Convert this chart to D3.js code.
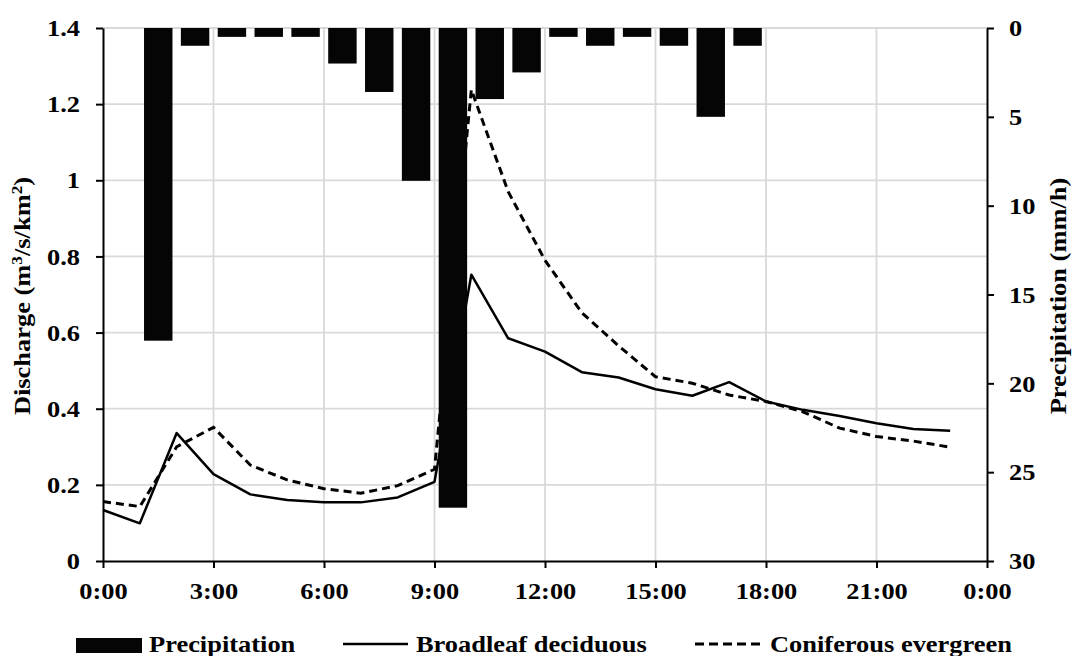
<!DOCTYPE html>
<html>
<head>
<meta charset="utf-8">
<script src="https://d3js.org/d3.v7.min.js"></script>
<style>
  body { margin: 0; background: #fff; }
  svg text { font-family: "Liberation Serif", "Times New Roman", serif; font-weight: bold; fill: #000; }
  .axis-left .tick text { transform-box: fill-box; transform-origin: right center; transform: scaleX(1.1); }
  .axis-right .tick text { transform-box: fill-box; transform-origin: left center; transform: scaleX(1.1); }
  .axis-bottom .tick text { transform-box: fill-box; transform-origin: center; transform: scaleX(1.1); }
  .title text { transform-box: fill-box; transform-origin: center; transform: scaleX(1.15); }
  .legend text { transform-box: fill-box; transform-origin: left center; transform: scaleX(1.15); }
</style>
</head>
<body>
<svg width="1081" height="656"></svg>
<script>
// hourly data, 0:00 .. 23:00
const hours = d3.range(24);
const precipitation = [0, 17.6, 1.0, 0.5, 0.5, 0.5, 2.0, 3.6, 8.6, 27.0, 4.0, 2.5,
                       0.5, 1.0, 0.5, 1.0, 5.0, 1.0, 0, 0, 0, 0, 0, 0];
const broadleaf = [0.134, 0.099, 0.336, 0.228, 0.175, 0.160, 0.154, 0.154, 0.167, 0.208, 0.752, 0.585,
                   0.550, 0.496, 0.482, 0.451, 0.434, 0.470, 0.419, 0.397, 0.381, 0.362, 0.347, 0.342];
const coniferous = [0.156, 0.143, 0.300, 0.351, 0.252, 0.213, 0.190, 0.178, 0.198, 0.241, 1.238, 0.970,
                    0.790, 0.652, 0.565, 0.484, 0.467, 0.436, 0.419, 0.392, 0.349, 0.327, 0.315, 0.299];
const dischargeTicks = [0, 0.2, 0.4, 0.6, 0.8, 1.0, 1.2, 1.4];
const precipTicks = [0, 5, 10, 15, 20, 25, 30];
const timeTicks = [0, 3, 6, 9, 12, 15, 18, 21, 24];

const svg = d3.select('svg');
const plotLeft = 103, plotRight = 987, plotTop = 28, plotBottom = 561;

const x = d3.scaleLinear().domain([0, 24]).range([plotLeft, plotRight]);
const xBand = d3.scaleBand().domain(hours).range([plotLeft, plotRight])
    .paddingInner(0.228).paddingOuter(0.114);
const y = d3.scaleLinear().domain([0, 1.4]).range([plotBottom, plotTop]);
const yPrecip = d3.scaleLinear().domain([0, 30]).range([plotTop, plotBottom]);

// grid
const $grid = svg.append('g').attr('stroke', '#d9d9d9').attr('stroke-width', 1.8);
$grid.selectAll('line.h').data(dischargeTicks.slice(1)).join('line')
    .attr('class', 'h')
    .attr('x1', plotLeft).attr('x2', plotRight)
    .attr('y1', d => y(d)).attr('y2', d => y(d));
$grid.selectAll('line.v').data(timeTicks.slice(1, -1)).join('line')
    .attr('class', 'v')
    .attr('y1', plotTop).attr('y2', plotBottom)
    .attr('x1', d => x(d)).attr('x2', d => x(d));

// discharge lines
const line = d3.line().x((d, i) => x(hours[i])).y(d => y(d));
svg.append('path').datum(broadleaf)
    .attr('d', line).attr('fill', 'none')
    .attr('stroke', '#000').attr('stroke-width', 2.5).attr('stroke-linejoin', 'round');
svg.append('path').datum(coniferous)
    .attr('d', line).attr('fill', 'none')
    .attr('stroke', '#000').attr('stroke-width', 3).attr('stroke-dasharray', '8,5');

// precipitation bars hanging from the top
svg.append('g').selectAll('rect')
    .data(hours.filter(h => precipitation[h] > 0)).join('rect')
    .attr('x', h => xBand(h)).attr('width', xBand.bandwidth())
    .attr('y', yPrecip(0)).attr('height', h => yPrecip(precipitation[h]) - yPrecip(0))
    .attr('fill', '#050505');

// axes
const fmtNum = d => String(+d.toFixed(1));
const fmtTime = d => (d % 24) + ':00';

function styleAxis($g) {
    $g.attr('font-size', null).attr('font-family', null);
    $g.select('.domain').attr('stroke-width', 2);
    $g.selectAll('.tick line').attr('stroke-width', 2);
    $g.selectAll('.tick text').attr('font-size', 24);
}

svg.append('g').attr('class', 'axis-left')
    .attr('transform', `translate(${plotLeft},0)`)
    .call(d3.axisLeft(y).tickValues(dischargeTicks).tickFormat(fmtNum)
        .tickSize(7).tickSizeOuter(0).tickPadding(16))
    .call(styleAxis);

svg.append('g').attr('class', 'axis-right')
    .attr('transform', `translate(${plotRight},0)`)
    .call(d3.axisRight(yPrecip).tickValues(precipTicks).tickFormat(d => d)
        .tickSize(7).tickSizeOuter(0).tickPadding(15))
    .call(styleAxis);

svg.append('g').attr('class', 'axis-bottom')
    .attr('transform', `translate(0,${plotBottom})`)
    .call(d3.axisBottom(x).tickValues(timeTicks).tickFormat(fmtTime)
        .tickSize(7).tickSizeOuter(0).tickPadding(14))
    .call(styleAxis);

// axis titles
const $tl = svg.append('g').attr('class', 'title')
    .attr('transform', 'translate(30,296) rotate(-90)');
const $tlText = $tl.append('text').attr('text-anchor', 'middle').attr('font-size', 23);
$tlText.append('tspan').text('Discharge (m');
$tlText.append('tspan').attr('font-size', 15).attr('dy', -8).text('3');
$tlText.append('tspan').attr('dy', 8).text('/s/km');
$tlText.append('tspan').attr('font-size', 15).attr('dy', -8).text('2');
$tlText.append('tspan').attr('dy', 8).text(')');

svg.append('g').attr('class', 'title')
    .attr('transform', 'translate(1066,296) rotate(-90)')
    .append('text').attr('text-anchor', 'middle').attr('font-size', 23)
    .text('Precipitation (mm/h)');

// legend
const $legend = svg.append('g').attr('class', 'legend');
$legend.append('rect').attr('x', 76).attr('y', 638).attr('width', 66).attr('height', 15).attr('fill', '#050505');
$legend.append('text').attr('x', 149).attr('y', 652).attr('font-size', 23).text('Precipitation');
$legend.append('line').attr('x1', 343).attr('x2', 408).attr('y1', 644).attr('y2', 644)
    .attr('stroke', '#000').attr('stroke-width', 2.5);
$legend.append('text').attr('x', 416).attr('y', 652).attr('font-size', 23).text('Broadleaf deciduous');
$legend.append('line').attr('x1', 695).attr('x2', 764).attr('y1', 644).attr('y2', 644)
    .attr('stroke', '#000').attr('stroke-width', 3).attr('stroke-dasharray', '9,5');
$legend.append('text').attr('x', 770).attr('y', 652).attr('font-size', 23).text('Coniferous evergreen');
</script>
</body>
</html>
